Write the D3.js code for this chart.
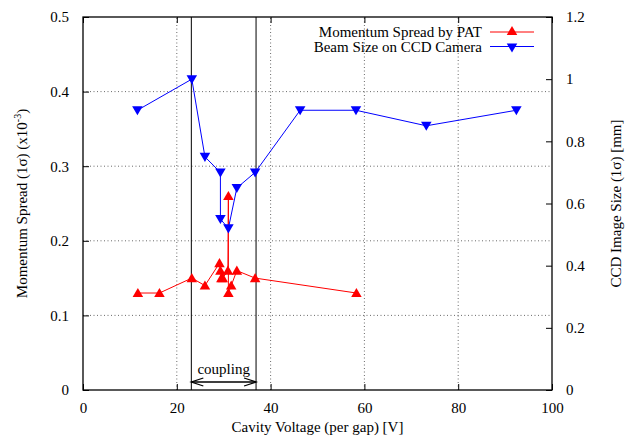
<!DOCTYPE html>
<html>
<head>
<meta charset="utf-8">
<script src="https://cdn.jsdelivr.net/npm/d3@7"></script>
<style>
  body { margin: 0; background: #fff; }
</style>
</head>
<body>
<div id="chart"></div>
<script>
// momentum spread measured by PAT (left axis, x1e-3)
const patVoltage = [11.7, 16.3, 23.2, 26.0, 29.1, 29.3, 29.5, 29.8, 30.9, 31.0, 31.0, 31.6, 32.8, 36.7, 58.3];
const patSpread  = [0.13, 0.13, 0.15, 0.14, 0.17, 0.16, 0.15, 0.15, 0.16, 0.26, 0.13, 0.14, 0.16, 0.15, 0.13];

// beam size on CCD camera (right axis, mm)
const ccdVoltage = [11.6, 23.2, 26.0, 29.3, 29.3, 31.0, 32.8, 36.7, 46.3, 58.2, 73.2, 92.4];
const ccdSize    = [0.90, 1.00, 0.75, 0.70, 0.55, 0.52, 0.65, 0.70, 0.90, 0.90, 0.85, 0.90];

const xTicks  = [0, 20, 40, 60, 80, 100];
const yTicks  = [0, 0.1, 0.2, 0.3, 0.4, 0.5];
const y2Ticks = [0, 0.2, 0.4, 0.6, 0.8, 1, 1.2];
const coupling = [23.1, 36.9];

const FONT = "Liberation Serif";
const FS = "15px";

const width = 628, height = 439;
const margin = { top: 17, right: 76, bottom: 49, left: 83 };
const innerW = width - margin.left - margin.right;
const innerH = height - margin.top - margin.bottom;

const x  = d3.scaleLinear().domain([0, 100]).range([margin.left, margin.left + innerW]);
const y  = d3.scaleLinear().domain([0, 0.5]).range([margin.top + innerH, margin.top]);
const y2 = d3.scaleLinear().domain([0, 1.2]).range([margin.top + innerH, margin.top]);

const svg = d3.select("#chart").append("svg")
  .attr("width", width)
  .attr("height", height)
  .attr("font-family", FONT)
  .attr("font-size", FS);

// grid
const grid = svg.append("g").attr("stroke", "#444").attr("stroke-width", 0.8).attr("stroke-dasharray", "1,2.5");
grid.selectAll("line.gx")
  .data(xTicks.slice(1, -1))
  .join("line")
    .attr("x1", d => x(d)).attr("x2", d => x(d))
    .attr("y1", y(0)).attr("y2", y(0.5));
grid.selectAll("line.gy")
  .data(yTicks.slice(1, -1))
  .join("line")
    .attr("x1", x(0)).attr("x2", x(100))
    .attr("y1", d => y(d)).attr("y2", d => y(d));

// axes, ticks inward
const tickLen = 6;
const fixFont = g => g.attr("font-family", FONT).attr("font-size", FS).select(".domain").remove();
svg.append("g")
  .attr("transform", `translate(0,${y(0)})`)
  .call(d3.axisBottom(x).tickValues(xTicks).tickSizeInner(-tickLen).tickSizeOuter(0).tickPadding(12).tickFormat(d3.format("d")))
  .call(fixFont);
svg.append("g")
  .attr("transform", `translate(0,${y(0.5)})`)
  .call(d3.axisTop(x).tickValues(xTicks).tickSizeInner(-tickLen).tickSizeOuter(0).tickFormat(""))
  .call(fixFont);
svg.append("g")
  .attr("transform", `translate(${x(0)},0)`)
  .call(d3.axisLeft(y).tickValues(yTicks).tickSizeInner(-tickLen).tickSizeOuter(0).tickPadding(14).tickFormat(d => d === 0 ? "0" : d3.format(".1f")(d)))
  .call(fixFont);
svg.append("g")
  .attr("transform", `translate(${x(100)},0)`)
  .call(d3.axisRight(y2).tickValues(y2Ticks).tickSizeInner(-tickLen).tickSizeOuter(0).tickPadding(14).tickFormat(d => d3.format("~g")(d)))
  .call(fixFont);
svg.selectAll(".tick line").attr("stroke", "#000");

// frame
svg.append("rect")
  .attr("x", x(0)).attr("y", y(0.5))
  .attr("width", x(100) - x(0)).attr("height", y(0) - y(0.5))
  .attr("fill", "none").attr("stroke", "#000").attr("stroke-width", 1.3);

// coupling region
svg.selectAll("line.coupling")
  .data(coupling)
  .join("line")
    .attr("class", "coupling")
    .attr("x1", d => x(d)).attr("x2", d => x(d))
    .attr("y1", y(0)).attr("y2", y(0.5))
    .attr("stroke", "#000").attr("stroke-width", 1);
const arrowY = y(0) - 8;
const arrow = svg.append("g").attr("stroke", "#000").attr("stroke-width", 1.3).attr("fill", "none");
arrow.append("line").attr("x1", x(coupling[0])).attr("x2", x(coupling[1])).attr("y1", arrowY).attr("y2", arrowY);
arrow.append("path").attr("d", `M${x(coupling[0]) + 12},${arrowY - 4}L${x(coupling[0])},${arrowY}L${x(coupling[0]) + 12},${arrowY + 4}`);
arrow.append("path").attr("d", `M${x(coupling[1]) - 12},${arrowY - 4}L${x(coupling[1])},${arrowY}L${x(coupling[1]) - 12},${arrowY + 4}`);
svg.append("text")
  .attr("x", (x(coupling[0]) + x(coupling[1])) / 2)
  .attr("y", arrowY - 8)
  .attr("text-anchor", "middle")
  .text("coupling");

// series
const up   = d3.symbol().type(d3.symbolTriangle).size(48);
const down = d3.symbol().type(d3.symbolTriangle).size(48);

const pat = patVoltage.map((v, i) => [v, patSpread[i]]);
const ccd = ccdVoltage.map((v, i) => [v, ccdSize[i]]);

svg.append("path")
  .datum(pat)
  .attr("fill", "none").attr("stroke", "#ff0000").attr("stroke-width", 1)
  .attr("d", d3.line().x(d => x(d[0])).y(d => y(d[1])));
svg.selectAll("path.pat")
  .data(pat)
  .join("path")
    .attr("class", "pat")
    .attr("d", up)
    .attr("transform", d => `translate(${x(d[0])},${y(d[1]) + 1})`)
    .attr("fill", "#ff0000");

svg.append("path")
  .datum(ccd)
  .attr("fill", "none").attr("stroke", "#0000ff").attr("stroke-width", 1)
  .attr("d", d3.line().x(d => x(d[0])).y(d => y2(d[1])));
svg.selectAll("path.ccd")
  .data(ccd)
  .join("path")
    .attr("class", "ccd")
    .attr("d", down)
    .attr("transform", d => `translate(${x(d[0])},${y2(d[1]) - 1}) rotate(180)`)
    .attr("fill", "#0000ff");

// legend
const legend = [
  { label: "Momentum Spread by PAT", color: "#ff0000", rot: 0 },
  { label: "Beam Size on CCD Camera", color: "#0000ff", rot: 180 }
];
const lg = svg.selectAll("g.legend")
  .data(legend)
  .join("g")
    .attr("class", "legend")
    .attr("transform", (d, i) => `translate(0,${32 + i * 14.5})`);
lg.append("text")
  .attr("x", 482).attr("y", 5)
  .attr("text-anchor", "end")
  .text(d => d.label);
lg.append("line")
  .attr("x1", 490).attr("x2", 534)
  .attr("stroke", d => d.color).attr("stroke-width", 1);
lg.append("path")
  .attr("d", up)
  .attr("transform", d => `translate(512,0) rotate(${d.rot})`)
  .attr("fill", d => d.color);

// axis labels
svg.append("text")
  .attr("x", x(50)).attr("y", 432)
  .attr("text-anchor", "middle")
  .text("Cavity Voltage (per gap) [V]");

const yl = svg.append("text")
  .attr("transform", `translate(27,${(y(0) + y(0.5)) / 2}) rotate(-90)`)
  .attr("text-anchor", "middle");
yl.append("tspan").text("Momentum Spread (1σ) (x10");
yl.append("tspan").attr("dy", -6).attr("font-size", "10px").text("-3");
yl.append("tspan").attr("dy", 6).text(")");

svg.append("text")
  .attr("transform", `translate(621,${(y(0) + y(0.5)) / 2}) rotate(-90)`)
  .attr("text-anchor", "middle")
  .text("CCD Image Size (1σ) [mm]");
</script>
</body>
</html>
